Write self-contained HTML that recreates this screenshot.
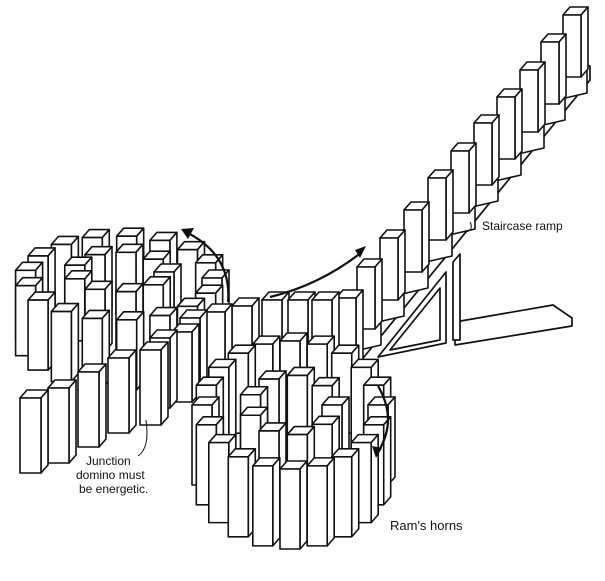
<!DOCTYPE html>
<html><head><meta charset="utf-8"><style>
html,body{margin:0;padding:0;background:#fff;width:605px;height:581px;overflow:hidden}
svg{display:block}
text{font-family:"Liberation Sans",sans-serif;fill:#111}
</style></head><body>
<svg id="s" width="605" height="581" viewBox="0 0 605 581" xmlns="http://www.w3.org/2000/svg">
<g id="ramp" fill="#fff" stroke="#111" stroke-width="1.7" stroke-linejoin="round">
<polygon points="355,368 590,80 590,66 572,60 350,352"/>
<polygon points="455,322 553,305 572,318 572,326 455,345"/>
<polygon points="453,340 453,262 460,254 460,340"/>
<polygon points="378,357 446,272 446,343"/>
<polygon points="390,350 440,288 440,340" fill="none"/>
</g>
<g id="d" fill="#fff" stroke="#111" stroke-width="1.6" stroke-linejoin="round"></g>
<g fill="none" stroke="#111" stroke-width="2.2">
<path d="M228,302 Q232,255 186,232"/>
<path d="M270,297 Q320,285 362,252"/>
<path d="M378,386 Q398,420 378,452"/>
<path d="M466,232 Q474,230 470,222" stroke-width="1"/>
<path d="M146,420 Q150,448 138,456" stroke-width="1"/>
</g>
<g fill="#111">
<polygon points="181,229 194,228 188,239"/>
<polygon points="366,246 360,258 355,250"/>
<polygon points="376,458 372,446 382,448"/>
</g>
<text x="482" y="230" font-size="12">Staircase ramp</text>
<text x="86" y="465" font-size="12">Junction</text>
<text x="76" y="479" font-size="12">domino must</text>
<text x="79" y="493" font-size="12">be energetic.</text>
<text x="390" y="530" font-size="13">Ram's horns</text>
</svg>
<script>
var L=[];
function add(x,y,h,w,st){L.push({x:x,y:y,h:h||65,w:w||20,st:st||0});}
var sx=[357,380,404,428,451,474,497,520,541,563],sy=[267,238,210,178,151,123,97,70,42,15];
for(var i=0;i<10;i++)add(sx[i],sy[i],62,18,1);
function ring(cx,cy,rx,ry,n,h){for(var i=0;i<n;i++){var a=i/n*2*Math.PI;add(cx+rx*Math.cos(a)-10,cy+ry*Math.sin(a),h);}}
ring(118,278,94,42,17,70);
ring(118,272,46,20,9,62);
ring(290,405,88,64,20,80);
ring(290,405,42,30,9,72);
[[180,318],[205,312],[232,306],[262,300],[288,300],[312,300],[336,298]].forEach(function(p){add(p[0],p[1],72);});
[[150,338],[172,332]].forEach(function(p){add(p[0],p[1],70);});
[[20,398],[48,388],[78,372],[108,358],[140,350]].forEach(function(p){add(p[0],p[1],75,21);});
L.sort(function(a,b){return (a.y+a.h)-(b.y+b.h);});
var g=document.getElementById('d'),s='';
L.forEach(function(d){var x=d.x,y=d.y,w=d.w,h=d.h,dx=7,dy=8;
if(d.st){var b=y+h;s+='<polygon points="'+(x-2)+','+b+' '+(x+w+6)+','+(b-6)+' '+(x+w+6)+','+(b+16)+' '+(x-2)+','+(b+22)+'"/>';}
s+='<polygon points="'+x+','+y+' '+(x+dx)+','+(y-dy)+' '+(x+w+dx)+','+(y-dy)+' '+(x+w)+','+y+'"/>';
s+='<polygon points="'+(x+w)+','+y+' '+(x+w+dx)+','+(y-dy)+' '+(x+w+dx)+','+(y+h-dy)+' '+(x+w)+','+(y+h)+'"/>';
s+='<rect x="'+x+'" y="'+y+'" width="'+w+'" height="'+h+'"/>';});
g.innerHTML=s;
</script>
</body></html>
